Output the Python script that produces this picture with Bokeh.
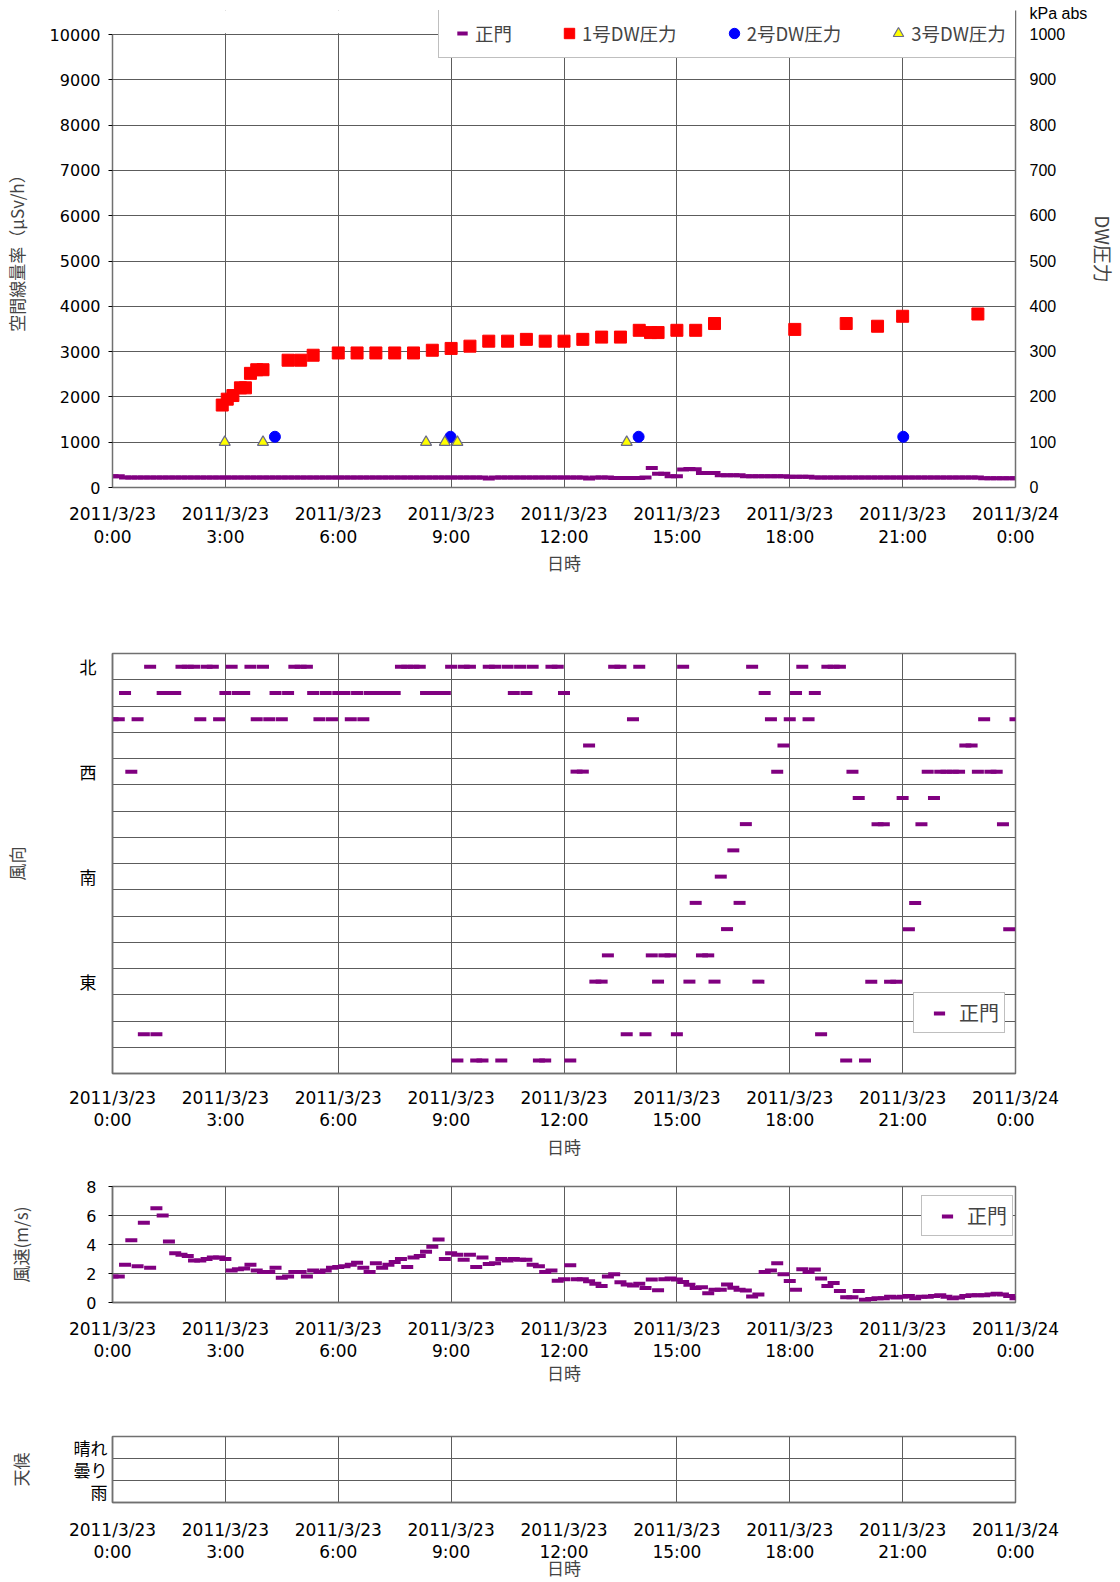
from bokeh.plotting import figure
from bokeh.models import Range1d, LinearAxis, FixedTicker, Legend, LegendItem, BoxAnnotation
from bokeh.layouts import column
from bokeh.embed import file_html
from bokeh.resources import INLINE

# ---------------- data ----------------
tick_hours = [0, 3, 6, 9, 12, 15, 18, 21, 24]
tick_labels = ["2011/3/23\n0:00", "2011/3/23\n3:00", "2011/3/23\n6:00",
               "2011/3/23\n9:00", "2011/3/23\n12:00", "2011/3/23\n15:00",
               "2011/3/23\n18:00", "2011/3/23\n21:00", "2011/3/24\n0:00"]

# 正門 空間線量率 (μSv/h), every 10 min from 0:00 to 24:00
seimon_dose = [
    250, 250, 220, 220, 220, 220, 220, 220, 220, 220, 220, 220,
    220, 220, 220, 220, 220, 220, 220, 220, 220, 220, 220, 220,
    220, 220, 220, 220, 220, 220, 220, 220, 220, 220, 220, 220,
    220, 220, 220, 220, 220, 220, 220, 220, 220, 220, 220, 220,
    220, 220, 220, 220, 220, 220, 220, 220, 220, 220, 220, 220,
    200, 220, 220, 220, 220, 220, 220, 220, 220, 220, 220, 220,
    220, 220, 220, 220, 200, 220, 220, 220, 210, 210, 210, 210,
    210, 220, 430, 305, 305, 250, 250, 400, 410, 405, 320, 320,
    320, 270, 270, 270, 270, 250, 250, 250, 250, 250, 250, 250,
    236, 236, 236, 236, 222, 222, 222, 222, 222, 222, 222, 222,
    222, 222, 222, 222, 222, 222, 222, 222, 222, 222, 222, 222,
    222, 222, 222, 222, 222, 222, 222, 205, 205, 205, 205, 205,
    205]

dw1_times = ["2:55", "3:03", "3:12", "3:24", "3:32", "3:40", "3:50", "4:00",
             "4:40", "5:00", "5:20", "6:00", "6:30", "7:00", "7:30", "8:00",
             "8:30", "9:00", "9:30", "10:00", "10:30", "11:00", "11:30",
             "12:00", "12:30", "13:00", "13:30", "14:00", "14:18", "14:30",
             "15:00", "15:30", "16:00", "18:08", "19:30", "20:20", "21:00",
             "23:00"]
dw1_kpa = [182, 195, 203, 220, 220, 252, 260, 260, 281, 281, 292, 297, 297,
           297, 297, 297, 303, 307, 312, 323, 323, 327, 323, 323, 327, 332,
           332, 347, 342, 342, 347, 347, 362, 349, 362, 356, 378, 383]

dw2_times = ["4:19", "8:59", "13:59", "21:01"]
dw2_kpa = [112, 112, 112, 112]

dw3_times = ["2:59", "4:00", "8:20", "8:50", "9:10", "13:40"]
dw3_kpa = [100, 100, 100, 100, 100, 100]

kpa_ticks = [0, 100, 200, 300, 400, 500, 600, 700, 800, 900, 1000]
kpa_unit_pos = 1046
dose_ticks = [0, 1000, 2000, 3000, 4000, 5000, 6000, 7000, 8000, 9000, 10000]

# wind direction rows, top to bottom
direction_rows = ["N", "NNW", "NW", "WNW", "W", "WSW", "SW", "SSW",
                  "S", "SSE", "SE", "ESE", "E", "ENE", "NE", "NNE"]
direction_labels = {"N": "北", "W": "西", "S": "南", "E": "東"}

wind_dir = [
    "NW", "NW", "NNW", "W", "NW", "NE", "N", "NE", "NNW", "NNW", "NNW", "N",
    "N", "N", "NW", "N", "N", "NW", "NNW", "N", "NNW", "NNW", "N", "NW",
    "N", "NW", "NNW", "NW", "NNW", "N", "N", "N", "NNW", "NW", "NNW", "NW",
    "NNW", "NNW", "NW", "NNW", "NW", "NNW", "NNW", "NNW", "NNW", "NNW", "N", "N",
    "N", "N", "NNW", "NNW", "NNW", "NNW", "N", "NNE", "N", "N", "NNE", "NNE",
    "N", "N", "NNE", "N", "NNW", "N", "NNW", "N", "NNE", "NNE", "N", "N",
    "NNW", "NNE", "W", "W", "WNW", "E", "E", "ESE", "N", "N", "NE", "NW",
    "N", "NE", "ESE", "E", "ESE", "ESE", "NE", "N", "E", "SSE", "ESE", "ESE",
    "E", "S", "SE", "SSW", "SSE", "SW", "N", "E", "NNW", "NW", "W", "WNW",
    "NW", "NNW", "N", "NW", "NNW", "NE", "N", "N", "N", "NNE", "W", "WSW",
    "NNE", "E", "SW", "SW", "E", "E", "WSW", "SE", "SSE", "SW", "W", "WSW",
    "W", "W", "W", "W", "WNW", "WNW", "W", "NW", "W", "W", "SW", "SE",
    "NW"]

wind_speed = [
    1.8, 1.8, 2.6, 4.3, 2.5, 5.5, 2.4, 6.5, 6.0, 4.2, 3.4, 3.3,
    3.2, 2.9, 2.9, 3.0, 3.1, 3.1, 3.0, 2.2, 2.3, 2.35, 2.6, 2.2,
    2.1, 2.1, 2.4, 1.7, 1.8, 2.1, 2.1, 1.8, 2.2, 2.1, 2.2, 2.4,
    2.45, 2.5, 2.6, 2.75, 2.4, 2.1, 2.7, 2.4, 2.6, 2.8, 3.0, 2.45,
    3.1, 3.2, 3.5, 3.85, 4.35, 3.0, 3.4, 3.3, 2.95, 3.3, 2.45, 3.1,
    2.65, 2.7, 3.0, 2.9, 3.0, 2.95, 2.95, 2.6, 2.5, 2.1, 2.2, 1.5,
    1.6, 2.57, 1.6, 1.6, 1.46, 1.3, 1.13, 1.8, 1.94, 1.4, 1.25, 1.18,
    1.3, 1.0, 1.58, 0.85, 1.6, 1.65, 1.58, 1.42, 1.22, 1.0, 1.06, 0.64,
    0.88, 0.88, 1.25, 1.02, 0.88, 0.83, 0.42, 0.56, 2.1, 2.2, 2.7, 1.94,
    1.48, 0.88, 2.3, 2.1, 2.27, 1.65, 1.13, 1.35, 0.79, 0.37, 0.37, 0.79,
    0.19, 0.25, 0.3, 0.3, 0.4, 0.35, 0.4, 0.45, 0.3, 0.4, 0.4, 0.45,
    0.5, 0.4, 0.3, 0.35, 0.45, 0.5, 0.5, 0.5, 0.55, 0.6, 0.55, 0.45,
    0.3]
speed_ticks = [0, 2, 4, 6, 8]

weather_rows = ["晴れ", "曇り", "雨"]
weather_grid_hours = [0, 3, 6, 9, 15, 18, 21, 24]

# ---------------- helpers ----------------
PURPLE = "#800080"
GRID = "#5c5c5c"
FRAME = "#707070"
NUM_FONT = "DejaVu Sans"
ARIAL = "Liberation Sans"
JP_FONT = "Noto Sans CJK JP"
LEFT, RIGHT = 111, 104


def to_hours(t):
    h, m = t.split(":")
    return int(h) + int(m) / 60.0


step_hours = [i / 6.0 for i in range(len(seimon_dose))]


def make_fig(height, top, bottom, y_range, x_standoff, x_lh, x_ls):
    p = figure(width=1120, height=height, x_range=Range1d(0, 24), y_range=y_range,
               output_backend="svg", toolbar_location=None,
               min_border_left=LEFT, min_border_right=RIGHT,
               min_border_top=top, min_border_bottom=bottom)
    p.background_fill_color = "white"
    p.border_fill_color = "white"
    p.outline_line_color = FRAME
    p.outline_line_width = 1.5
    xa = p.xaxis[0]
    xa.ticker = FixedTicker(ticks=tick_hours)
    xa.major_label_overrides = dict(zip(tick_hours, tick_labels))
    xa.major_label_text_font = NUM_FONT
    xa.major_label_text_font_size = "17px"
    xa.major_label_text_line_height = x_lh
    xa.major_label_text_color = "black"
    xa.major_tick_out = 0
    xa.major_tick_in = 0
    xa.minor_tick_out = 0
    xa.minor_tick_in = 0
    xa.major_label_standoff = x_standoff
    xa.axis_label = "日時"
    xa.axis_label_text_font = JP_FONT
    xa.axis_label_text_font_size = "17px"
    xa.axis_label_text_font_style = "normal"
    xa.axis_label_standoff = x_ls
    xa.axis_line_color = FRAME
    xa.axis_line_width = 1.5
    p.xgrid.grid_line_color = GRID
    p.xgrid.grid_line_width = 1
    p.ygrid.grid_line_color = GRID
    p.ygrid.grid_line_width = 1
    return p


def style_y(ax, font, size, standoff, label, label_standoff, label_size="17px"):
    ax.major_label_text_font = font
    ax.major_label_text_font_size = size
    ax.major_label_text_color = "black"
    ax.major_label_standoff = standoff
    ax.minor_tick_out = 0
    ax.minor_tick_in = 0
    ax.major_tick_in = 0
    ax.axis_line_color = FRAME
    ax.axis_line_width = 1.5
    ax.axis_label = label
    ax.axis_label_text_font = JP_FONT
    ax.axis_label_text_font_size = label_size
    ax.axis_label_text_font_style = "normal"
    ax.axis_label_standoff = label_standoff


def gate_legend(renderer, loc):
    return Legend(items=[LegendItem(label="正門", renderers=[renderer])],
                  location=loc, glyph_width=40, glyph_height=28, label_height=28,
                  label_standoff=0, padding=5, margin=0,
                  label_text_font=JP_FONT, label_text_font_size="20px",
                  border_line_color="#808080", border_line_width=1,
                  background_fill_color="white", background_fill_alpha=1.0)


# ---------------- figure 1: dose rate & DW pressure ----------------
# frame reaches up to the legend's top; the area above 10000 is kept blank
p1 = make_fig(600, 10, 113, Range1d(0, 10530), 16, 1.18, 0)
p1.outline_line_color = None
p1.extra_y_ranges = {"kpa": Range1d(0, 1053)}
ya1 = p1.yaxis[0]
ya1.ticker = FixedTicker(ticks=dose_ticks)
ya1.bounds = (0, 10000)
style_y(ya1, NUM_FONT, "16px", 8, "空間線量率（μSv/h）", 18)
ya1.major_tick_out = 4

p1.add_layout(BoxAnnotation(bottom=10030, fill_color="white", fill_alpha=1.0,
                            line_color=None, level="glyph"))

r_gate = p1.scatter(step_hours, seimon_dose, marker="dash", size=12,
                    line_width=4, line_color=PURPLE)
r_dw1 = p1.scatter([to_hours(t) for t in dw1_times], dw1_kpa, y_range_name="kpa",
                   marker="square", size=12, fill_color="#ff0000", line_color="#ff0000")
r_dw2 = p1.scatter([to_hours(t) for t in dw2_times], dw2_kpa, y_range_name="kpa",
                   marker="circle", size=11, fill_color="#0000ff", line_color="#0000ff")
r_dw3 = p1.scatter([to_hours(t) for t in dw3_times], dw3_kpa, y_range_name="kpa",
                   marker="triangle", size=11, fill_color="#ffff00", line_color="#6a6a8a",
                   line_width=1.2)

right_ax = LinearAxis(y_range_name="kpa", ticker=FixedTicker(ticks=kpa_ticks + [kpa_unit_pos]))
right_ax.major_label_overrides = {kpa_unit_pos: "kPa abs"}
p1.add_layout(right_ax, "right")
style_y(right_ax, ARIAL, "16px", 14, "DW圧力", 0, label_size="19px")
right_ax.major_tick_out = 0

leg1 = Legend(items=[LegendItem(label="正門", renderers=[r_gate]),
                     LegendItem(label="1号DW圧力", renderers=[r_dw1]),
                     LegendItem(label="2号DW圧力", renderers=[r_dw2]),
                     LegendItem(label="3号DW圧力", renderers=[r_dw3])],
              orientation="horizontal", location=(326, 429),
              glyph_width=26, glyph_height=28, label_height=28, label_standoff=0,
              spacing=44, padding=10, margin=0,
              label_text_font=JP_FONT, label_text_font_size="18.5px",
              border_line_color="#808080", border_line_width=1,
              background_fill_color="white", background_fill_alpha=1.0)
p1.add_layout(leg1, "center")

# ---------------- figure 2: wind direction ----------------
p2 = make_fig(570, 53, 97, Range1d(0, 16), 14, 1.1, 1)
dir_y = [15.5 - direction_rows.index(d) for d in wind_dir]
r_dir = p2.scatter(step_hours, dir_y, marker="dash", size=12, line_width=4, line_color=PURPLE)
ya2 = p2.yaxis[0]
lab_ticks = [15.5 - direction_rows.index(k) for k in direction_labels]
ya2.ticker = FixedTicker(ticks=lab_ticks)
ya2.major_label_overrides = {15.5 - direction_rows.index(k): v for k, v in direction_labels.items()}
style_y(ya2, JP_FONT, "17px", 16, "風向", 48)
ya2.major_tick_out = 0
p2.ygrid.ticker = FixedTicker(ticks=list(range(0, 17)))
p2.add_layout(gate_legend(r_dir, (801, 40)), "center")

# ---------------- figure 3: wind speed ----------------
p3 = make_fig(230, 16, 98, Range1d(0, 8), 16, 1.1, -4)
r_spd = p3.scatter(step_hours, wind_speed, marker="dash", size=12, line_width=4, line_color=PURPLE)
ya3 = p3.yaxis[0]
ya3.ticker = FixedTicker(ticks=speed_ticks)
style_y(ya3, NUM_FONT, "16px", 12, "風速(m/s)", 50)
ya3.major_tick_out = 4
p3.add_layout(gate_legend(r_spd, (809, 66)), "center")

# ---------------- figure 4: weather ----------------
p4 = make_fig(182, 36, 79, Range1d(0, 3), 17, 1.1, -10)
ya4 = p4.yaxis[0]
w_ticks = [2.5 - i for i in range(len(weather_rows))]
ya4.ticker = FixedTicker(ticks=w_ticks)
ya4.major_label_overrides = dict(zip(w_ticks, weather_rows))
style_y(ya4, JP_FONT, "17px", 5, "天候", 38)
ya4.major_tick_out = 0
p4.ygrid.ticker = FixedTicker(ticks=[0, 1, 2, 3])
p4.xgrid.ticker = FixedTicker(ticks=weather_grid_hours)

layout = column(p1, p2, p3, p4, spacing=0)
open("out.html", "w").write(file_html(layout, INLINE))
